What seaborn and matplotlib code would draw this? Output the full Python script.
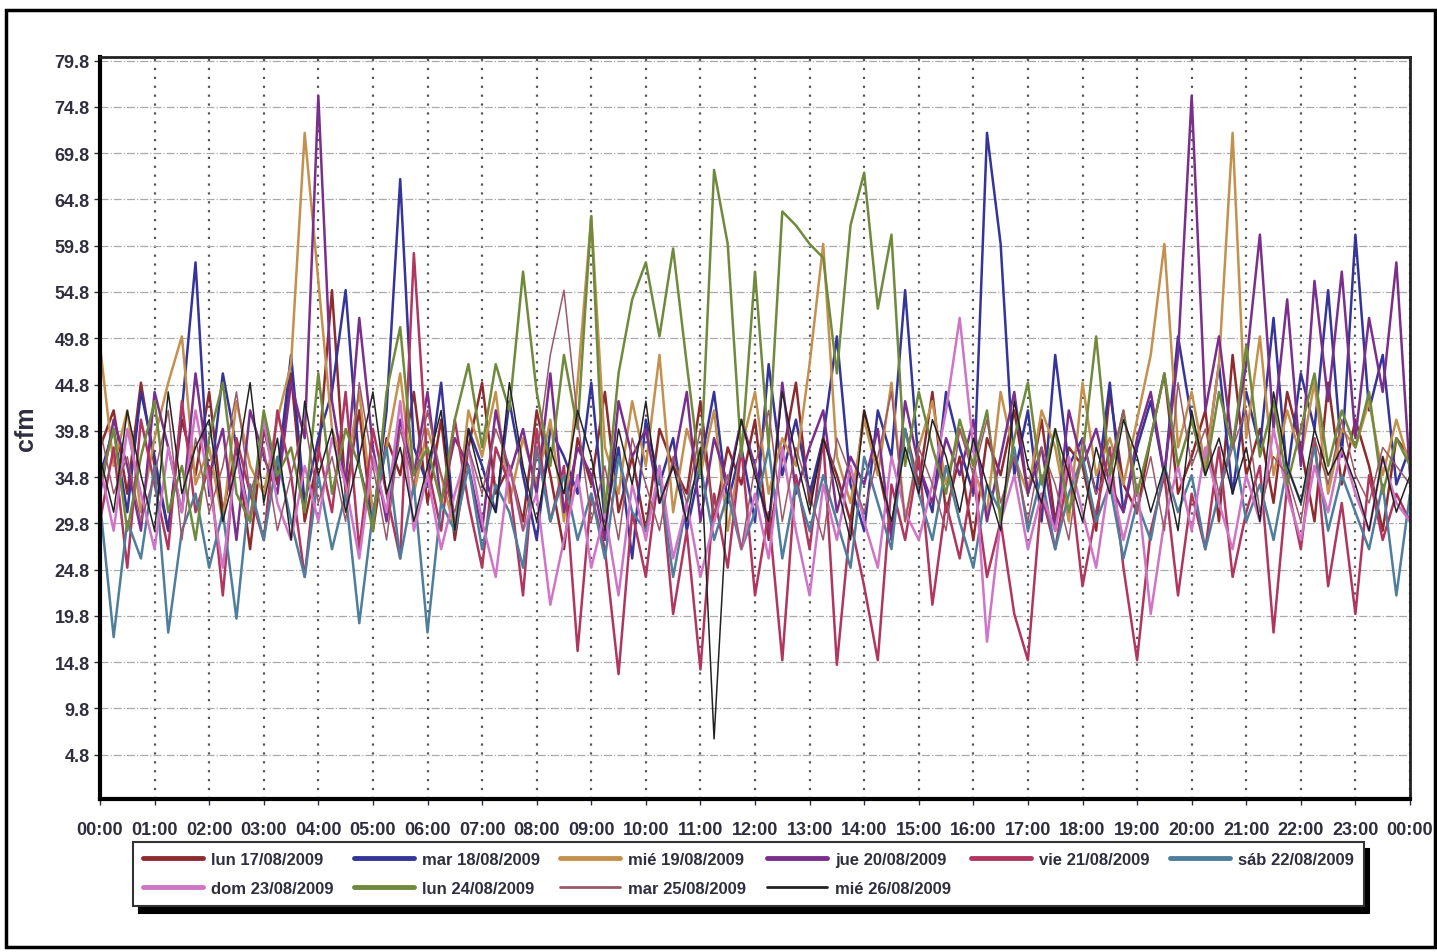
import numpy as np
import pandas as pd
import matplotlib
matplotlib.use("Agg")
import matplotlib.pyplot as plt
from matplotlib.patches import Rectangle
import seaborn as sns

# flow readings every 15 min, 00:00 -> 24:00 (97 values per day)
lun17 = [38, 42, 33, 45, 36, 29, 41, 35, 44, 31, 38, 27, 40, 34, 46, 30,
         37, 55, 33, 42, 29, 39, 35, 44, 32, 41, 28, 38, 45, 33, 36, 30,
         42, 35, 27, 39, 34, 44, 31, 37, 29, 40, 36, 33, 43, 30, 38, 34,
         41, 28, 37, 45, 32, 39, 35, 30, 42, 36, 29, 40, 34, 44, 31, 37,
         28, 39, 35, 42, 33, 41, 30, 38, 36, 29, 44, 34, 31, 39, 46, 33,
         37, 42, 30, 48, 35, 40, 32, 44, 38, 30, 45, 34, 41, 36, 29, 39, 37]
mar18 = [35, 40, 31, 44, 37, 29, 42, 58, 33, 46, 38, 30, 41, 35, 48, 32,
         39, 44, 55, 36, 30, 42, 67, 38, 34, 45, 29, 40, 36, 31, 43, 35,
         28, 40, 37, 33, 45, 30, 38, 26, 41, 34, 39, 29, 36, 44, 32, 38,
         30, 47, 35, 41, 33, 39, 50, 34, 29, 42, 37, 55, 36, 31, 44, 38,
         33, 72, 60, 35, 42, 30, 48, 36, 39, 33, 45, 31, 38, 43, 35, 50,
         41, 36, 47, 33, 44, 38, 52, 35, 46, 40, 55, 37, 61, 42, 48, 34, 38]
mie19 = [49, 36, 42, 31, 39, 45, 50, 34, 38, 30, 43, 36, 33, 41, 47, 72,
         56, 40, 35, 44, 31, 38, 46, 33, 40, 35, 29, 42, 37, 44, 32, 39,
         34, 41, 30, 45, 63, 38, 33, 43, 36, 48, 31, 40, 35, 42, 29, 38,
         44, 33, 39, 36, 47, 60, 37, 32, 41, 35, 45, 30, 38, 43, 34, 40,
         36, 31, 44, 37, 33, 42, 38, 30, 45, 35, 39, 34, 41, 48, 60, 38,
         44, 36, 47, 72, 39, 50, 35, 42, 37, 45, 33, 40, 38, 43, 35, 41, 36]
jue20 = [33, 41, 36, 29, 44, 38, 31, 46, 35, 40, 28, 42, 37, 33, 45, 39,
         76, 43, 34, 52, 38, 30, 41, 35, 44, 32, 39, 36, 29, 42, 35, 40,
         33, 46, 31, 38, 35, 28, 43, 37, 40, 32, 36, 44, 30, 39, 34, 41,
         36, 29, 45, 33, 38, 42, 31, 37, 34, 40, 28, 43, 36, 32, 39, 35,
         41, 30, 37, 44, 33, 38, 29, 42, 36, 40, 34, 31, 39, 44, 35, 48,
         76, 42, 50, 38, 47, 61, 40, 54, 36, 56, 43, 57, 39, 52, 44, 58, 35]
vie21 = [30, 38, 25, 41, 34, 27, 43, 31, 36, 22, 39, 33, 28, 42, 35, 24,
         38, 31, 44, 27, 40, 33, 26, 59, 36, 29, 41, 32, 25, 38, 34, 22,
         40, 30, 36, 16, 33, 27, 13.5, 31, 24, 36, 20, 29, 14, 33, 25, 38,
         22, 31, 15, 35, 27, 39, 14.5, 30, 23, 15, 34, 28, 37, 21, 32, 26,
         35, 24, 30, 20, 15, 33, 27, 36, 23, 31, 38, 25, 15, 29, 35, 22,
         33, 27, 38, 24, 31, 36, 18, 34, 27, 39, 23, 32, 20, 35, 28, 33, 30]
sab22 = [32, 17.5, 30, 26, 36, 18, 29, 33, 25, 31, 19.5, 34, 28, 37, 30, 24,
         35, 27, 33, 19, 31, 38, 26, 34, 18, 32, 29, 36, 27, 34, 31, 25,
         38, 30, 35, 28, 33, 26, 37, 31, 29, 35, 24, 32, 36, 28, 33, 27,
         31, 38, 26, 34, 29, 35, 30, 25, 37, 32, 27, 40, 33, 28, 36, 30,
         25, 34, 31, 38, 29, 35, 27, 33, 37, 30, 34, 26, 32, 28, 36, 31,
         35, 27, 33, 39, 30, 34, 28, 36, 32, 38, 29, 35, 31, 27, 34, 22, 33]
dom23 = [36, 29, 40, 33, 27, 38, 31, 42, 34, 25, 37, 30, 41, 32, 28, 36,
         30, 39, 34, 26, 37, 31, 43, 29, 35, 27, 33, 38, 30, 24, 36, 29,
         33, 21, 28, 35, 25, 31, 22, 34, 28, 36, 26, 32, 24, 30, 35, 27,
         33, 26, 38, 29, 22, 34, 28, 36, 30, 25, 37, 31, 28, 34, 42, 52,
         38, 17, 30, 35, 27, 33, 29, 37, 31, 25, 35, 28, 34, 20, 30, 36,
         29, 38, 32, 27, 35, 30, 40, 33, 28, 36, 31, 38, 33, 29, 37, 32, 30]
lun24 = [34, 40, 29, 37, 43, 31, 36, 28, 39, 45, 33, 30, 42, 35, 38, 31,
         46, 33, 40, 36, 29, 44, 51, 35, 38, 32, 41, 47, 38, 47, 42, 57,
         44, 36, 48, 40, 63, 31, 46, 54, 58, 50, 59.5, 47, 35, 68, 60, 37,
         57, 38, 63.5, 62, 60, 58.5, 46, 62, 67.7, 53, 61, 36, 44, 38, 33, 41,
         36, 42, 30, 39, 45, 34, 40, 31, 37, 50, 35, 42, 33, 39, 46, 36,
         41, 35, 44, 38, 49, 37, 43, 34, 40, 46, 36, 42, 38, 44, 33, 39, 36]
mar25 = [40, 33, 37, 30, 35, 42, 28, 39, 31, 36, 44, 33, 38, 29, 35, 41,
         32, 37, 30, 45, 36, 28, 40, 34, 42, 35, 31, 38, 33, 40, 36, 29,
         37, 48, 55, 41, 30, 36, 28, 39, 34, 29, 37, 32, 40, 31, 35, 27,
         36, 42, 30, 38, 33, 28, 39, 35, 31, 37, 44, 30, 38, 34, 29, 40,
         35, 41, 32, 37, 30, 38, 34, 28, 39, 33, 36, 42, 31, 37, 29, 45,
         36, 40, 33, 38, 42, 31, 37, 35, 30, 39, 34, 41, 35, 32, 38, 36, 34]
mie26 = [37, 31, 42, 35, 29, 44, 33, 38, 41, 30, 36, 45, 32, 39, 28, 43,
         35, 40, 31, 37, 44, 33, 38, 30, 36, 42, 29, 40, 34, 31, 45, 36,
         30, 38, 33, 42, 37, 29, 40, 34, 43, 32, 36, 30, 38, 6.5, 33, 41,
         35, 30, 44, 37, 31, 39, 34, 28, 42, 36, 30, 38, 33, 41, 37, 31,
         39, 34, 29, 43, 36, 32, 40, 35, 30, 38, 33, 41, 37, 31, 36, 29,
         42, 35, 39, 33, 38, 30, 44, 36, 32, 40, 35, 38, 34, 29, 37, 31, 35]

days = ["lun 17/08/2009", "mar 18/08/2009", "mié 19/08/2009", "jue 20/08/2009",
        "vie 21/08/2009", "sáb 22/08/2009", "dom 23/08/2009", "lun 24/08/2009",
        "mar 25/08/2009", "mié 26/08/2009"]
series = [lun17, mar18, mie19, jue20, vie21, sab22, dom23, lun24, mar25, mie26]
colors = ["#8e2b2e", "#35349a", "#c4904e", "#7b2f8c", "#b0355f", "#4f7d9c",
          "#cf74c6", "#6f8a3c", "#9a5868", "#222222"]
widths = [1.8, 1.8, 1.8, 1.8, 1.8, 1.8, 1.8, 1.8, 1.1, 1.1]
hour_labels = ["%02d:00" % h for h in range(24)] + ["00:00"]
ytick_vals = [4.8, 9.8, 14.8, 19.8, 24.8, 29.8, 34.8, 39.8, 44.8, 49.8,
              54.8, 59.8, 64.8, 69.8, 74.8, 79.8]

hours = np.arange(97) / 4.0
df = pd.DataFrame({"hora": np.tile(hours, len(days)),
                   "cfm": np.concatenate(series),
                   "dia": np.repeat(days, 97)})

sns.set_style("white")
plt.rcParams['font.family'] = ['Liberation Sans', 'DejaVu Sans']

fig = plt.figure(figsize=(14.37, 9.53), dpi=100)
ax = fig.add_axes([100 / 1437, 1 - 800 / 953, 1310 / 1437, 742 / 953])

for d, c, w in zip(days, colors, widths):
    sub = df[df["dia"] == d]
    sns.lineplot(data=sub, x="hora", y="cfm", color=c, lw=w, label=d, ax=ax)
ax.get_legend().remove()

ax.set_xlim(0, 24)
ax.set_ylim(0, 80.2)
ax.set_xticks(range(25))
ax.set_xticklabels(hour_labels)
ax.set_yticks(ytick_vals)
ax.set_yticklabels(["%.1f" % v for v in ytick_vals])
ax.tick_params(axis="both", labelsize=13, colors="#2e2e3e", length=4, width=1,
               direction="out", bottom=True, left=True)
ax.tick_params(axis="x", pad=12)
for lab in ax.get_xticklabels() + ax.get_yticklabels():
    lab.set_fontweight("bold")
ax.set_xlabel("")
ax.set_ylabel("cfm", fontsize=18, fontweight="bold", color="#2e2e3e", labelpad=12)

for x in range(1, 25):
    ax.axvline(x, color="#555555", lw=1.6, ls=(0, (1, 3)), zorder=0)
for y in ytick_vals:
    ax.axhline(y, color="#aaaaaa", lw=0.9, ls="-.", zorder=0)

for s in ["left", "bottom"]:
    ax.spines[s].set_linewidth(3)
    ax.spines[s].set_color("black")
for s in ["top", "right"]:
    ax.spines[s].set_linewidth(2)
    ax.spines[s].set_color("#222222")

# legend fills row by row in the reference: reorder for column-major layout
handles, labels = ax.get_legend_handles_labels()
order = [0, 6, 1, 7, 2, 8, 3, 9, 4, 5]
leg = fig.legend([handles[i] for i in order], [labels[i] for i in order],
                 ncol=6, loc="upper left",
                 bbox_to_anchor=(133 / 1437, 1 - 843 / 953),
                 frameon=True, fancybox=False, handlelength=3.6,
                 columnspacing=1.2, handletextpad=0.5, labelspacing=0.85,
                 prop={"size": 12, "weight": "bold"}, borderaxespad=0,
                 borderpad=0.6,
                 shadow={"color": "black", "alpha": 1.0, "ox": 4, "oy": -5})
leg.get_frame().set_edgecolor("#333333")
leg.get_frame().set_linewidth(1.5)
for t in leg.get_texts():
    t.set_color("#2e2e3e")
for h, i in zip(leg.legend_handles, order):
    h.set_linewidth(2.0 if i >= 8 else 3.5)

fig.patches.append(Rectangle((6 / 1437, 5 / 953), 1429 / 1437, 937 / 953,
                             transform=fig.transFigure, fill=False,
                             edgecolor="black", lw=2.5))

fig.savefig("out.png", dpi=100)
